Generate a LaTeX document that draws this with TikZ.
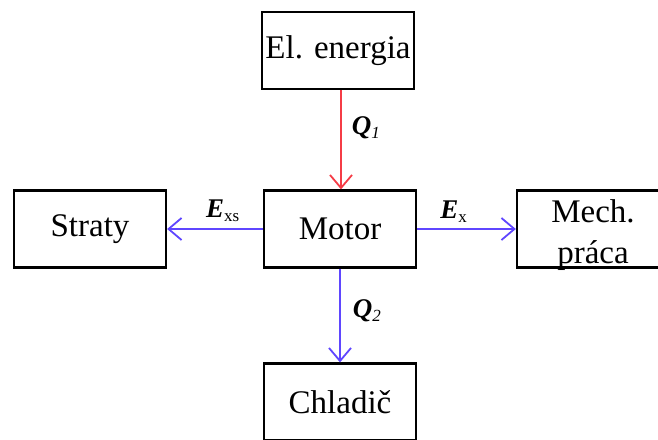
\documentclass[tikz,border=0pt]{standalone}
\usepackage{fontspec}
\setmainfont{Liberation Serif}
\usetikzlibrary{arrows.meta}
\definecolor{arrred}{RGB}{245,60,70}
\definecolor{arrblue}{RGB}{95,70,255}
\tikzset{
  box/.style={draw=black, line width=2.3pt, minimum width=152pt, minimum height=77pt,
    inner sep=0pt, font=\fontsize{33}{38}\selectfont, align=center},
  flow/.style={line width=1.8pt, -{Straight Barb[length=13pt,width=22pt,line width=1.8pt]}},
  lbl/.style={inner sep=0pt, text=black, font=\fontsize{27}{29}\selectfont}
}
\newcommand{\bsym}[2]{{\bfseries\itshape #1}\raisebox{-4pt}{\fontsize{17}{17}\selectfont #2}}
\begin{document}
\begin{tikzpicture}[x=1pt,y=-1pt]
\useasboundingbox (0,0) rectangle (658,439);
\clip (0,0) rectangle (658,439);
\node[box] (en) at (338,50.5) {El. energia};
\node[box] (mot) at (340,229) {Motor};
\node[box] (str) at (90,229) {Straty};
\node[box] (mech) at (593,229) {\raisebox{-12pt}[0pt][0pt]{\fontsize{33}{41}\selectfont\begin{tabular}{@{}c@{}}Mech.\\práca\end{tabular}}};
\node[box] (chl) at (340,402) {Chladič};
\draw[flow, arrred] (en.south -| mot.north) ++(1,0) coordinate (q1s) -- (q1s |- mot.north)
  node[lbl, pos=0.38, anchor=west, xshift=10pt] {\bsym{Q}{\itshape 1}};
\draw[flow, arrblue] (mot.south) -- (chl.north)
  node[lbl, pos=0.45, anchor=west, xshift=12pt] {\bsym{Q}{\itshape 2}};
\draw[flow, arrblue] (mot.west) -- (str.east)
  node[lbl, pos=0.42, anchor=base, yshift=12pt] {\bsym{E}{xs}};
\draw[flow, arrblue] (mot.east) -- (mech.west)
  node[lbl, pos=0.37, anchor=base, yshift=11pt] {\bsym{E}{x}};
\end{tikzpicture}
\end{document}
